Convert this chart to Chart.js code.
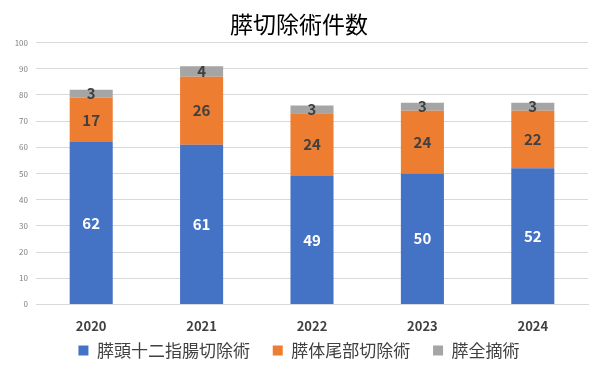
<!DOCTYPE html>
<html>
<head>
<meta charset="utf-8">
<script src="https://cdn.jsdelivr.net/npm/chart.js@4"></script>
<style>
  html, body { margin: 0; padding: 0; background: #fff; }
  #wrap { width: 606px; height: 379px; }
</style>
</head>
<body>
<div id="wrap"><canvas id="chart" width="606" height="379"></canvas></div>
<script>
const years = ['2020', '2021', '2022', '2023', '2024'];
const pdValues = [62, 61, 49, 50, 52];       // 膵頭十二指腸切除術
const dpValues = [17, 26, 24, 24, 22];       // 膵体尾部切除術
const tpValues = [3, 4, 3, 3, 3];            // 膵全摘術
const yTicks = [0, 10, 20, 30, 40, 50, 60, 70, 80, 90, 100];

const FONT = '"Noto Sans CJK JP", "Noto Sans", sans-serif';

// draw value labels in the middle of each segment
const segmentLabels = {
    id: 'segmentLabels',
    afterDatasetsDraw(chart) {
        const ctx = chart.ctx;
        const colors = ['#ffffff', '#404040', '#404040'];
        chart.data.datasets.forEach((ds, i) => {
            const meta = chart.getDatasetMeta(i);
            meta.data.forEach((bar, j) => {
                const mid = (bar.y + bar.base) / 2;
                ctx.save();
                ctx.font = 'bold 15px ' + FONT;
                ctx.fillStyle = colors[i];
                ctx.textAlign = 'center';
                ctx.textBaseline = 'middle';
                ctx.fillText(ds.data[j], bar.x, mid);
                ctx.restore();
            });
        });
    }
};

new Chart(document.getElementById('chart'), {
    type: 'bar',
    data: {
        labels: years,
        datasets: [
            { label: '膵頭十二指腸切除術', data: pdValues, backgroundColor: '#4472C4' },
            { label: '膵体尾部切除術', data: dpValues, backgroundColor: '#ED7D31' },
            { label: '膵全摘術', data: tpValues, backgroundColor: '#A5A5A5' }
        ]
    },
    options: {
        responsive: false,
        animation: false,
        datasets: { bar: { categoryPercentage: 1, barPercentage: 0.39 } },
        layout: { padding: { left: 10, right: 18, top: 4, bottom: 10 } },
        plugins: {
            title: {
                display: true,
                text: '膵切除術件数',
                color: '#000000',
                font: { family: FONT, size: 23, weight: 'normal' },
                padding: { top: 6, bottom: 5 }
            },
            legend: {
                position: 'bottom',
                labels: {
                    color: '#404040',
                    font: { family: FONT, size: 17 },
                    boxWidth: 10,
                    boxHeight: 10,
                    padding: 2,
                    generateLabels(chart) {
                        const items = Chart.defaults.plugins.legend.labels.generateLabels(chart);
                        items.forEach((it, i) => {
                            if (i < items.length - 1) it.text = it.text + '\u3000 ';
                        });
                        return items;
                    }
                }
            },
            tooltip: { enabled: false }
        },
        scales: {
            x: {
                stacked: true,
                grid: { display: false },
                border: { color: '#d9d9d9' },
                ticks: { color: '#404040', font: { family: FONT, size: 13, weight: 'bold' }, padding: 6 }
            },
            y: {
                stacked: true,
                min: 0,
                max: 100,
                afterFit(scale) { scale.width = 26; },
                afterBuildTicks(scale) { scale.ticks = yTicks.map(v => ({ value: v })); },
                grid: { color: '#d9d9d9', drawTicks: false },
                border: { display: false },
                ticks: { color: '#7f7f7f', font: { family: FONT, size: 8 }, padding: 8 }
            }
        }
    },
    plugins: [segmentLabels]
});
</script>
</body>
</html>
